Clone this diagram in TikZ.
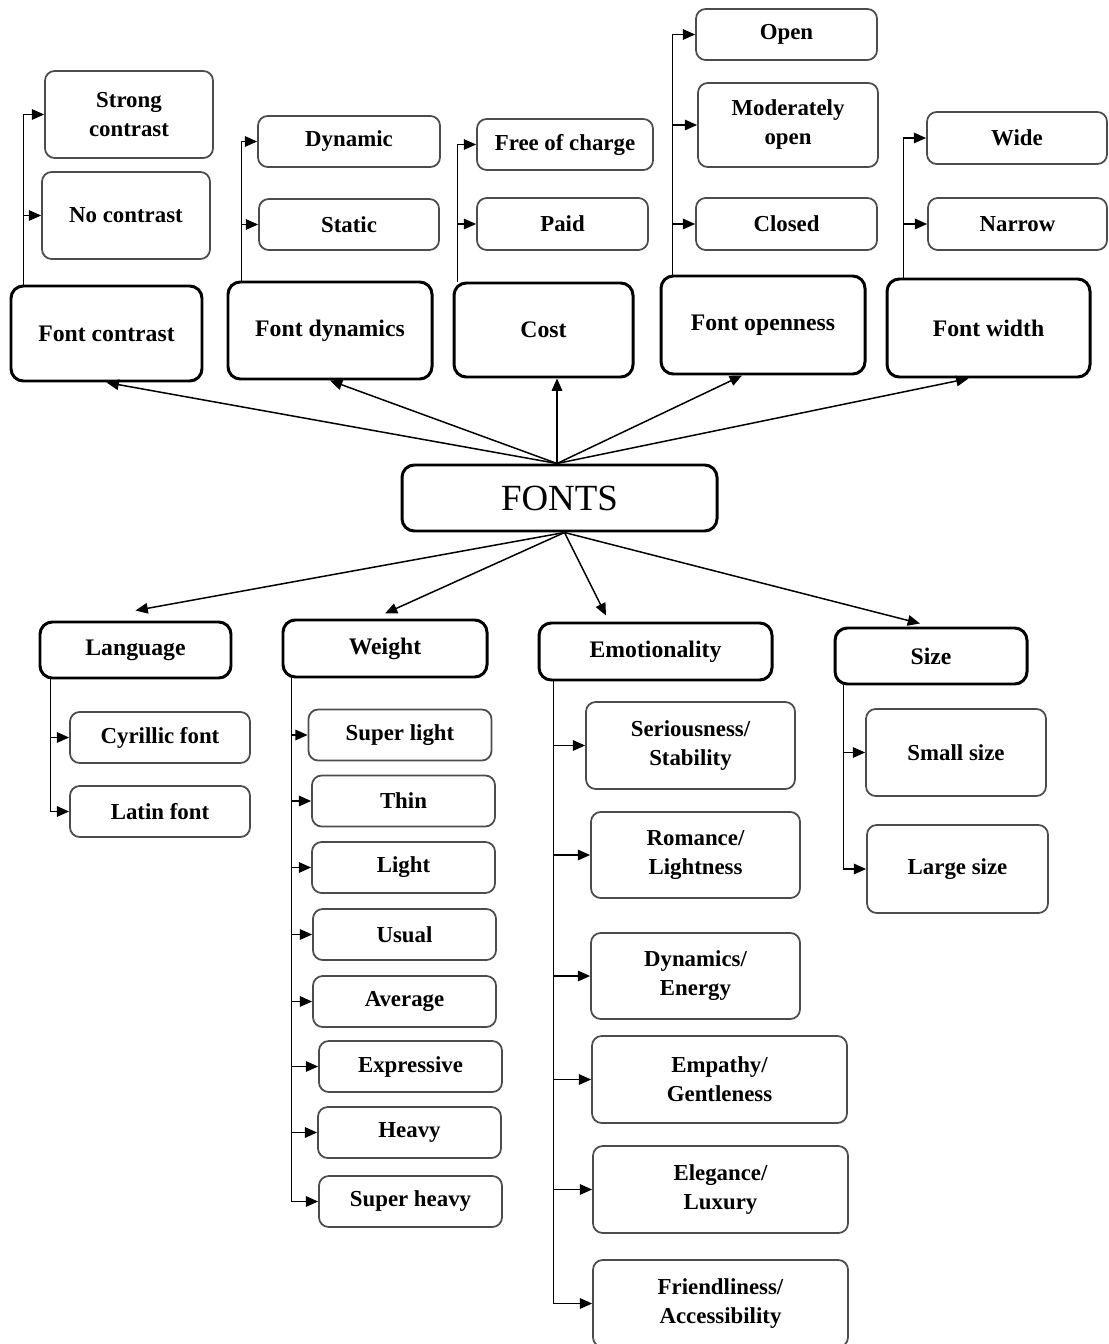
\documentclass[tikz,border=0pt]{standalone}
\usepackage{fontspec}
\setmainfont{Liberation Serif}
\usetikzlibrary{arrows.meta}

\begin{document}
\begin{tikzpicture}[x=0.02cm,y=-0.02cm,
  headbox/.style={draw,line width=1.7pt,rounded corners=7pt,inner sep=0pt,align=center,font=\bfseries\fontsize{13.5}{16}\selectfont},
  itembox/.style={draw=black!70,line width=1pt,rounded corners=5.5pt,inner sep=0pt,align=center,font=\bfseries\fontsize{13}{16.5}\selectfont},
  wh/.style 2 args={minimum width=#1*0.02cm,minimum height=#2*0.02cm},
  link/.style={line width=0.85pt,-{Triangle[length=7pt,width=6pt]}}]
\useasboundingbox (0,0) rectangle (1108,1344);
% root node
\node[headbox,wh={315}{66},font=\fontsize{21}{24}\selectfont] (fonts) at (559.5,498) {FONTS};
\coordinate (up) at ([xshift=-0.05cm]fonts.north);
\coordinate (down) at ([xshift=0.1cm]fonts.south);
% upper characteristics
\node[headbox,wh={191}{95}] (contrast) at (106.5,333.5) {Font contrast};
\node[headbox,wh={204}{97}] (dynamics) at (330,330.5) {Font dynamics};
\node[headbox,wh={179}{94}] (cost) at (543.5,330) {Cost};
\node[headbox,wh={204}{98}] (openness) at (763,325) {Font openness};
\node[headbox,wh={203}{98}] (width) at (988.5,328) {Font width};
\draw[link] (up) -- (contrast.south);
\draw[link] (up) -- (dynamics.south);
\draw[link] (up) -- (up |- cost.south);
\draw[link] (up) -- ([xshift=-0.42cm]openness.south);
\draw[link] (up) -- ([xshift=-0.4cm]width.south);
% their values
\node[itembox,wh={168}{87}] (strong) at (129,114.5) {Strong\\contrast};
\node[itembox,wh={168}{87}] (nocontrast) at (126,215.5) {No contrast};
\foreach \n in {strong,nocontrast} \draw[link] ([xshift=0.28cm]contrast.north west) |- (\n.west);
\node[itembox,wh={182}{51}] (dynamic) at (349,141.5) {Dynamic};
\node[itembox,wh={180}{51}] (static) at (349,224.5) {Static};
\foreach \n in {dynamic,static} \draw[link] ([xshift=0.3cm]dynamics.north west) |- (\n.west);
\node[itembox,wh={176}{51}] (free) at (565,144.5) {Free of charge};
\node[itembox,wh={171}{52}] (paid) at (562.5,224) {Paid};
\foreach \n in {free,paid} \draw[link] ([xshift=0.1cm]cost.north west) |- (\n.west);
\node[itembox,wh={181}{51}] (open) at (786.5,34.5) {Open};
\node[itembox,wh={180}{84}] (moderate) at (788,125) {Moderately\\open};
\node[itembox,wh={181}{52}] (closed) at (786.5,224) {Closed};
\foreach \n in {open,moderate,closed} \draw[link] ([xshift=0.26cm]openness.north west) |- (\n.west);
\node[itembox,wh={180}{52}] (wide) at (1017,138) {Wide};
\node[itembox,wh={179}{52}] (narrow) at (1017.5,224) {Narrow};
\foreach \n in {wide,narrow} \draw[link] ([xshift=0.36cm]width.north west) |- (\n.west);
% lower characteristics
\node[headbox,wh={191}{56}] (language) at (135.5,650) {Language};
\node[headbox,wh={204}{57}] (weight) at (385,648.5) {Weight};
\node[headbox,wh={233}{57}] (emotion) at (655.5,651.5) {Emotionality};
\node[headbox,wh={192}{56}] (size) at (931,656) {Size};
\draw[link] (down) -- ([yshift=0.2cm]language.north);
\draw[link] (down) -- ([yshift=0.1cm]weight.north);
\draw[link] (down) -- ([xshift=-0.99cm,yshift=0.12cm]emotion.north);
\draw[link] (down) -- ([xshift=-0.22cm,yshift=0.06cm]size.north);
% language
\node[itembox,wh={180}{51}] (cyrillic) at (160,737.5) {Cyrillic font};
\node[itembox,wh={180}{51}] (latin) at (160,811.5) {Latin font};
\foreach \n in {cyrillic,latin} \draw[link] ([xshift=0.24cm]language.south west) |- (\n.west);
% weight scale
\foreach \n/\x/\y/\t in {superlight/400/735/Super light,thin/403.5/801/Thin,light/403.5/867.5/Light,usual/404.5/934.5/Usual,average/404.5/1001.5/Average,expressive/410.5/1066.5/Expressive,heavy/409.5/1132.5/Heavy,superheavy/410.5/1201.5/Super heavy}
  {\node[itembox,wh={183}{51}] (\n) at (\x,\y) {\t}; \draw[link] ([xshift=0.2cm]weight.south west) |- (\n.west);}
% emotional types
\node[itembox,wh={209}{87}] (serious) at (690.5,745.5) {Seriousness/\\Stability};
\node[itembox,wh={209}{86}] (romance) at (695.5,855) {Romance/\\Lightness};
\node[itembox,wh={209}{86}] (energy) at (695.5,976) {Dynamics/\\Energy};
\node[itembox,wh={255}{87}] (empathy) at (719.5,1079.5) {Empathy/\\Gentleness};
\node[itembox,wh={255}{87}] (elegance) at (720.5,1189.5) {Elegance/\\Luxury};
\node[itembox,wh={255}{87}] (friendly) at (720.5,1303.5) {Friendliness/\\Accessibility};
\foreach \n in {serious,romance,energy,empathy,elegance,friendly} \draw[link] ([xshift=0.32cm]emotion.south west) |- (\n.west);
% size
\node[itembox,wh={180}{87}] (small) at (956,752.5) {Small size};
\node[itembox,wh={181}{88}] (large) at (957.5,869) {Large size};
\foreach \n in {small,large} \draw[link] ([xshift=0.2cm]size.south west) |- (\n.west);
\end{tikzpicture}
\end{document}
